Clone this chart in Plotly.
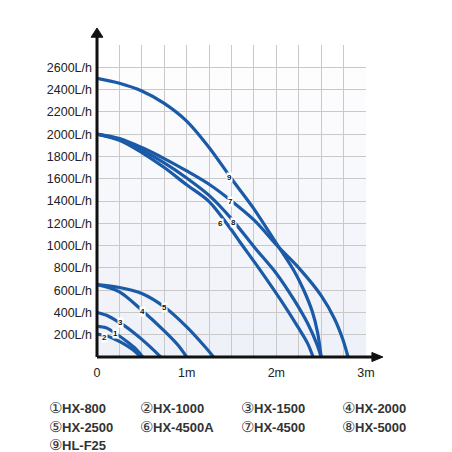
import plotly.graph_objects as go

# ---------------- data ----------------
models = ["HX-800", "HX-1000", "HX-1500", "HX-2000", "HX-2500",
          "HX-4500A", "HX-4500", "HX-5000", "HL-F25"]
circled = ["①", "②", "③", "④", "⑤", "⑥", "⑦", "⑧", "⑨"]

head_1 = [0, 0.1, 0.21, 0.34, 0.43, 0.51]
flow_1 = [275, 262, 211, 135, 75, 0]

head_2 = [0, 0.1, 0.2, 0.3, 0.4, 0.49]
flow_2 = [205, 190, 160, 118, 65, 0]

head_3 = [0, 0.1, 0.2, 0.3, 0.4, 0.5, 0.6, 0.71]
flow_3 = [400, 376, 334, 284, 225, 158, 86, 0]

head_4 = [0, 0.25, 0.5, 0.75, 0.9, 1.0]
flow_4 = [650, 585, 420, 235, 110, 0]

head_5 = [0, 0.25, 0.5, 0.76, 1.0, 1.19, 1.3]
flow_5 = [650, 624, 570, 444, 270, 105, 0]

head_6 = [0, 0.25, 0.5, 0.75, 1.0, 1.25, 1.5, 1.6, 1.82, 2.05, 2.24, 2.35, 2.41]
flow_6 = [2000, 1945, 1835, 1700, 1545, 1395, 1140, 1025, 780, 510, 270, 120, 0]

head_7 = [0, 0.25, 0.5, 0.75, 1.0, 1.25, 1.5, 1.75, 2.02, 2.26, 2.5, 2.65, 2.74, 2.8]
flow_7 = [2000, 1961, 1880, 1781, 1670, 1550, 1400, 1230, 990, 791, 551, 341, 161, 0]

head_8 = [0, 0.25, 0.5, 0.75, 1.0, 1.25, 1.5, 1.75, 2.0, 2.2, 2.35, 2.45, 2.5]
flow_8 = [2000, 1950, 1856, 1742, 1606, 1450, 1240, 990, 750, 510, 300, 120, 0]

head_9 = [0, 0.25, 0.5, 0.75, 1.0, 1.25, 1.5, 1.75, 2.0, 2.2, 2.3, 2.4, 2.46, 2.5]
flow_9 = [2500, 2456, 2387, 2276, 2117, 1880, 1600, 1330, 1020, 770, 610, 410, 220, 0]

heads = [head_1, head_2, head_3, head_4, head_5, head_6, head_7, head_8, head_9]
flows = [flow_1, flow_2, flow_3, flow_4, flow_5, flow_6, flow_7, flow_8, flow_9]

# curve number label positions (head m, flow L/h)
label_head = [0.21, 0.08, 0.26, 0.51, 0.75, 1.38, 1.49, 1.52, 1.48]
label_flow = [211, 175, 306, 405, 445, 1200, 1400, 1210, 1612]

y_ticks = [200, 400, 600, 800, 1000, 1200, 1400, 1600, 1800, 2000, 2200, 2400, 2600]
y_tick_text = [f"{v}L/h" for v in y_ticks]
x_ticks = [0, 1, 2, 3]
x_tick_text = ["0", "1m", "2m", "3m"]

# ---------------- figure ----------------
BLUE = "#1a5aa6"
FONT = "Liberation Sans, Arial, sans-serif"

fig = go.Figure()
for i in range(9):
    fig.add_trace(go.Scatter(
        x=heads[i], y=flows[i], mode="lines", name=models[i],
        line=dict(color=BLUE, width=3.2, shape="spline", smoothing=0.9),
        hoverinfo="skip", showlegend=False, cliponaxis=True))

annotations = []
for i in range(9):
    annotations.append(dict(
        x=label_head[i], y=label_flow[i], xref="x", yref="y",
        text=f"<b>{i + 1}</b>", showarrow=False,
        font=dict(size=8, color="#111", family=FONT),
        bgcolor="white", borderpad=0))

# legend text beneath the chart
col_x = [-0.187, 0.1535, 0.529, 0.9033]
row_y = [-0.1625, -0.2234, -0.282]
for i in range(9):
    annotations.append(dict(
        x=col_x[i % 4], y=row_y[i // 4], xref="paper", yref="paper",
        xanchor="left", yanchor="middle", showarrow=False,
        text=(f"<span style='font-size:15px'>{circled[i]}</span>"
              f"<b>{models[i]}</b>"),
        font=dict(size=13, color="#333", family=FONT)))

# soft background gradient (white top -> pale blue bottom)
shapes = []
nb = 14
for k in range(nb):
    t = k / (nb - 1)
    r = int(255 - 16 * (1 - t))
    g = int(255 - 14 * (1 - t))
    b = int(255 - 6 * (1 - t))
    shapes.append(dict(type="rect", xref="paper", yref="paper",
                       x0=0, x1=1, y0=k / nb, y1=(k + 1) / nb,
                       fillcolor=f"rgb({r},{g},{b})", line=dict(width=0),
                       layer="below"))

# axes with arrows
shapes.append(dict(type="line", xref="paper", yref="paper", x0=0, y0=0,
                   x1=0, y1=1.03, line=dict(color="#111", width=3)))
shapes.append(dict(type="line", xref="paper", yref="paper", x0=0, y0=0,
                   x1=1.025, y1=0, line=dict(color="#111", width=3)))
shapes.append(dict(type="path", xref="paper", yref="paper",
                   path="M -0.022 1.025 L 0.022 1.025 L 0 1.0545 Z",
                   fillcolor="#111", line=dict(color="#111", width=1)))
shapes.append(dict(type="path", xref="paper", yref="paper",
                   path="M 1.022 -0.0145 L 1.022 0.0145 L 1.063 0 Z",
                   fillcolor="#111", line=dict(color="#111", width=1)))

# page body has an 8px margin, so the figure is 444px and sits at (8, 8)
fig.update_layout(
    width=444, height=444,
    margin=dict(l=89, r=86, t=37, b=95),
    paper_bgcolor="white", plot_bgcolor="white",
    font=dict(family=FONT, color="#222"),
    shapes=shapes, annotations=annotations,
)
fig.update_xaxes(
    range=[0, 3], tickvals=x_ticks, ticktext=x_tick_text,
    showgrid=True, gridcolor="#c9c9c9", gridwidth=1,
    minor=dict(dtick=0.25, showgrid=True, gridcolor="#c9c9c9", gridwidth=1),
    zeroline=False, showline=False, ticks="",
    tickfont=dict(size=12.5, color="#222", family=FONT),
    ticklabelstandoff=6, fixedrange=True)
fig.update_yaxes(
    range=[0, 2800], tickvals=y_ticks, ticktext=y_tick_text,
    showgrid=True, gridcolor="#c9c9c9", gridwidth=1,
    minor=dict(dtick=200, showgrid=True, gridcolor="#c9c9c9", gridwidth=1),
    zeroline=False, showline=False, ticks="",
    tickfont=dict(size=12.5, color="#222", family=FONT),
    ticklabelstandoff=4, fixedrange=True)

fig.write_html("out.html")
